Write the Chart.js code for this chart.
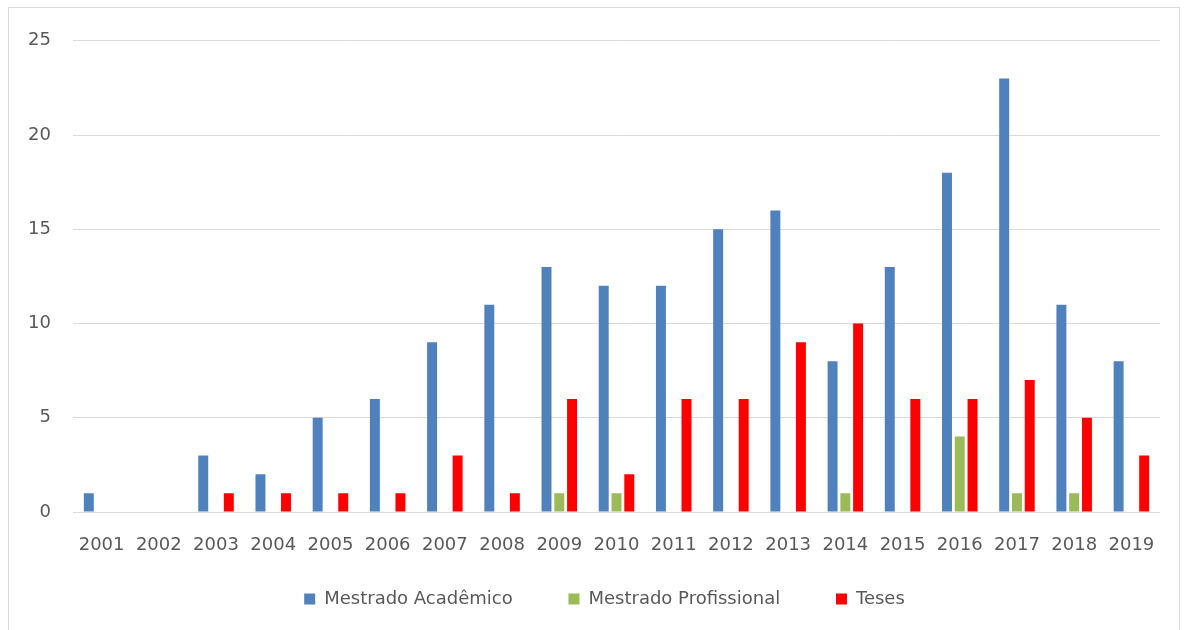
<!DOCTYPE html>
<html lang="en">
<head>
    <meta charset="UTF-8">
    <title>Dissertações e teses</title>
    <style>
        body { margin: 0; background: #fff; overflow: hidden; }
        #frame { position: absolute; left: 8px; top: 7px; width: 1170px; height: 640px; border: 1px solid #d9d9d9; }
        #chart { display: block; }
    </style>
</head>
<body>
    <div id="frame">
        <canvas id="chart" width="1170" height="622"></canvas>
    </div>
    <script src="https://cdn.jsdelivr.net/npm/chart.js@4/dist/chart.umd.min.js"></script>
    <script>
        const years = ['2001','2002','2003','2004','2005','2006','2007','2008','2009','2010',
                       '2011','2012','2013','2014','2015','2016','2017','2018','2019']
        const mestradoAcademico = [1,0,3,2,5,6,9,11,13,12,12,15,16,8,13,18,23,11,8]
        const mestradoProfissional = [0,0,0,0,0,0,0,0,1,1,0,0,0,1,0,4,1,1,0]
        const teses = [0,0,1,1,1,1,3,1,6,2,6,6,9,10,6,6,7,5,3]
        const yTicks = [0,5,10,15,20,25]

        const textColor = '#595959'
        const font = { family: 'DejaVu Sans', size: 18 }
        // extra space after the first two legend entries, as in the original
        const legendGap = '        '

        const mkSet = (label, data, color) => ({
            label: label,
            data: data,
            backgroundColor: color,
            borderWidth: 0,
            categoryPercentage: 0.67,
            barPercentage: 0.78
        })

        // the legend sits a bit right of the canvas centre
        const shiftLegend = {
            id: 'shiftLegend',
            afterLayout(chart) {
                chart.legend.left += 20
                chart.legend.right += 20
            }
        }

        new Chart(document.getElementById('chart'), {
            type: 'bar',
            data: {
                labels: years,
                datasets: [
                    mkSet('Mestrado Acadêmico', mestradoAcademico, '#4f81bd'),
                    mkSet('Mestrado Profissional', mestradoProfissional, '#9bbb59'),
                    mkSet('Teses', teses, '#ff0000')
                ]
            },
            plugins: [shiftLegend],
            options: {
                responsive: false,
                animation: false,
                layout: { padding: { top: 25, right: 19, bottom: 12, left: 0 } },
                plugins: {
                    tooltip: { enabled: false },
                    legend: {
                        position: 'bottom',
                        labels: {
                            color: textColor,
                            font: font,
                            boxWidth: 11,
                            boxHeight: 11,
                            padding: 10,
                            generateLabels(chart) {
                                const items = Chart.defaults.plugins.legend.labels.generateLabels(chart)
                                items.forEach((it, i) => {
                                    if (i < items.length - 1) it.text = it.text + legendGap
                                })
                                return items
                            }
                        }
                    }
                },
                scales: {
                    x: {
                        grid: { display: false, drawTicks: false },
                        border: { display: false },
                        ticks: { color: textColor, font: font, padding: 23, maxRotation: 0 },
                        afterFit(scale) { scale.height = 68 }
                    },
                    y: {
                        min: 0,
                        max: 25,
                        afterBuildTicks(scale) { scale.ticks = yTicks.map(v => ({ value: v })) },
                        grid: { color: '#d9d9d9', lineWidth: 1, drawTicks: false },
                        border: { display: false },
                        ticks: { color: textColor, font: font, padding: 22 },
                        afterFit(scale) { scale.width = 64 }
                    }
                }
            }
        })
    </script>
</body>
</html>
